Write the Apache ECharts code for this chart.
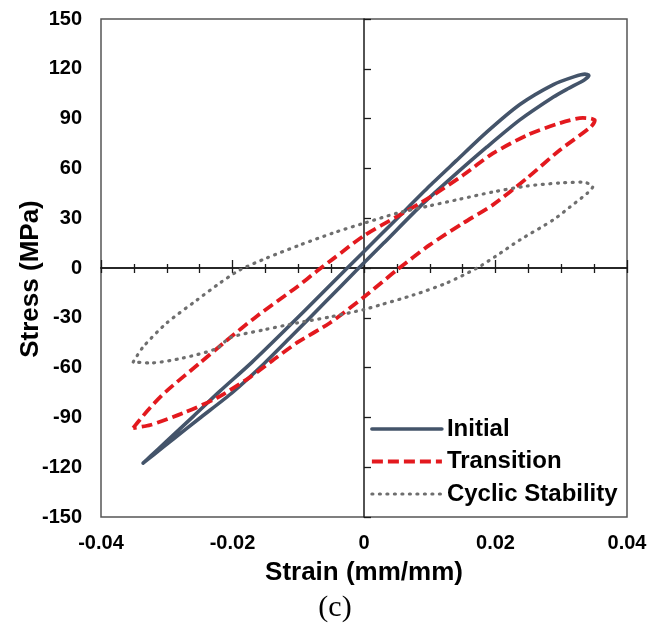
<!DOCTYPE html>
<html>
<head>
<meta charset="utf-8">
<script src="https://cdn.jsdelivr.net/npm/echarts@6/dist/echarts.min.js"></script>
<style>
html,body{margin:0;padding:0;background:#fff;}
#chart{width:653px;height:635px;}
</style>
</head>
<body>
<div id="chart"></div>
<script>
// ---- Data ----
const seriesNames = ['Initial', 'Transition', 'Cyclic Stability'];

const initialStrain = [-0.0336,-0.0325,-0.0300,-0.0260,-0.0220,-0.0171,-0.0120,-0.0060,0.0000,0.0050,0.0100,0.0140,0.0187,0.0237,0.0288,0.0320,0.0336,0.0342,
  0.0335,0.0310,0.0288,0.0237,0.0187,0.0135,0.0085,0.0030,-0.0011,-0.0060,-0.0110,-0.0153,-0.0200,-0.0250,-0.0290,-0.0320,-0.0336];
const initialStress = [-117.5,-113.5,-104.3,-89.5,-74.5,-57,-37.4,-13.7,10,29.7,49.5,64.5,82,98.5,110.5,115.3,116.8,116.0,
  113.3,108,103,89.2,72.9,55,37,15,-1.2,-21,-41,-58,-75,-90.5,-103,-112.5,-117.5];

const transitionStrain = [-0.0351,-0.0345,-0.0325,-0.0300,-0.0249,-0.0210,-0.0163,-0.0102,-0.0072,-0.0047,0.0000,0.0050,0.0100,0.0151,0.0196,0.0248,0.0298,0.0333,0.0345,0.0351,
  0.0345,0.0298,0.0248,0.0196,0.0151,0.0100,0.0050,0.0000,-0.0052,-0.0100,-0.0132,-0.0173,-0.0224,-0.0275,-0.0325,-0.0351];
const transitionStress = [-96.4,-93.4,-84,-74,-57,-44,-29,-11.4,-2,5.5,19.5,31,42.5,56,69,80,87.3,90.4,90,89,
  85,71.1,54.2,38,27.1,13.9,-1.2,-17.5,-33.1,-44.5,-53.6,-65.7,-78.3,-87.4,-94.6,-96.4];

const cyclicStrain = [-0.0351,-0.0336,-0.0300,-0.0254,-0.0219,-0.0189,-0.0148,-0.0097,-0.0047,0.0000,0.0050,0.0100,0.0146,0.0196,0.0248,0.0298,0.0333,0.0348,
  0.0340,0.0313,0.0288,0.0237,0.0200,0.0172,0.0126,0.0075,0.0024,0.0000,-0.0052,-0.0102,-0.0153,-0.0204,-0.0224,-0.0275,-0.0325,-0.0351];
const cyclicStress = [-56.6,-47.6,-33.1,-19.3,-9.0,-1.2,6.0,13.9,21.1,27,33,37.5,41.5,45.8,49.4,51.2,51.8,49,
  45.2,36.7,29,16.9,7,0,-9.0,-16.3,-22.3,-25,-29.5,-33.1,-37.3,-42,-48.5,-54.2,-57.2,-56.6];

const xTickValues = [-0.04, -0.02, 0, 0.02, 0.04];
const xTickLabels = ['-0.04', '-0.02', '0', '0.02', '0.04'];
const yTickValues = [-150, -120, -90, -60, -30, 0, 30, 60, 90, 120, 150];
const yTickLabels = ['-150', '-120', '-90', '-60', '-30', '0', '30', '60', '90', '120', '150'];

// ---- Build ----
function zip(a, b) { return a.map((v, i) => [v, b[i]]); }
function labelFor(values, labels, v) {
  for (let i = 0; i < values.length; i++) if (Math.abs(values[i] - v) < 1e-9) return labels[i];
  return '';
}

const chart = echarts.init(document.getElementById('chart'), null, {renderer: 'canvas'});
const FONT = '"Liberation Sans", Arial, sans-serif';
const axisColor = '#1a1a1a';

const option = {
  animation: false,
  backgroundColor: '#ffffff',
  grid: {left: 101, right: 26, top: 19, bottom: 118, containLabel: false, outerBoundsMode: 'none',
    show: true, borderColor: '#555', borderWidth: 1.5, backgroundColor: 'transparent'},
  legend: {
    orient: 'vertical', left: 365, top: 411,
    itemWidth: 70, itemHeight: 14, itemGap: 6.5,
    itemStyle: {opacity: 0},
    lineStyle: {width: 'inherit'},
    textStyle: {fontFamily: FONT, fontWeight: 'bold', fontSize: 24, color: '#000', lineHeight: 26},
    data: seriesNames
  },
  xAxis: [
    {
      type: 'value', min: -0.04, max: 0.04, interval: 0.02, position: 'bottom',
      axisLine: {show: false, onZero: false}, axisTick: {show: false}, splitLine: {show: false},
      axisLabel: {fontFamily: FONT, fontWeight: 'bold', fontSize: 20, color: '#000', margin: 16,
        formatter: v => labelFor(xTickValues, xTickLabels, v)},
      name: 'Strain (mm/mm)', nameLocation: 'middle', nameGap: 43,
      nameTextStyle: {fontFamily: FONT, fontWeight: 'bold', fontSize: 26, color: '#000'}
    },
    {
      type: 'value', min: -0.04, max: 0.04, interval: 0.005, position: 'bottom',
      axisLine: {show: true, onZero: true, onZeroAxisIndex: 0, lineStyle: {color: axisColor, width: 1.5}},
      axisTick: {show: true, inside: false, length: 5, lineStyle: {color: axisColor, width: 1.3}},
      axisLabel: {show: false}, splitLine: {show: false}
    },
    {
      type: 'value', min: -0.04, max: 0.04, interval: 0.02, position: 'bottom',
      axisLine: {show: true, onZero: true, onZeroAxisIndex: 0, lineStyle: {color: axisColor, width: 1.5}},
      axisTick: {show: true, inside: true, length: 8, lineStyle: {color: axisColor, width: 1.3}},
      minorTick: {show: true, splitNumber: 4, length: 4, lineStyle: {color: axisColor, width: 1.3}},
      axisLabel: {show: false}, splitLine: {show: false}
    }
  ],
  yAxis: [
    {
      type: 'value', min: -150, max: 150, interval: 30, position: 'left',
      axisLine: {show: false, onZero: false}, axisTick: {show: false}, splitLine: {show: false},
      axisLabel: {fontFamily: FONT, fontWeight: 'bold', fontSize: 20, color: '#000', margin: 19,
        formatter: v => labelFor(yTickValues, yTickLabels, v)},
      name: 'Stress (MPa)', nameLocation: 'middle', nameGap: 57, nameMoveOverlap: false,
      nameTextStyle: {fontFamily: FONT, fontWeight: 'bold', fontSize: 26, color: '#000', padding: [0, 22, 0, 0]}
    },
    {
      type: 'value', min: -150, max: 150, interval: 30, position: 'left',
      axisLine: {show: true, onZero: true, onZeroAxisIndex: 0, lineStyle: {color: axisColor, width: 1.5}},
      axisTick: {show: true, inside: true, length: 7, lineStyle: {color: axisColor, width: 1.3}},
      axisLabel: {show: false}, splitLine: {show: false}
    }
  ],
  series: [
    {
      name: seriesNames[0], type: 'line', xAxisIndex: 0, yAxisIndex: 0,
      data: zip(initialStrain, initialStress), symbol: 'none', smooth: 0.25,
      lineStyle: {color: '#44546a', width: 3.6, cap: 'round', join: 'round'},
      itemStyle: {color: '#44546a'}
    },
    {
      name: seriesNames[1], type: 'line', xAxisIndex: 0, yAxisIndex: 0,
      data: zip(transitionStrain, transitionStress), symbol: 'none', smooth: 0.25,
      lineStyle: {color: '#e3191e', width: 3.8, type: [11, 5], join: 'round'},
      itemStyle: {color: '#e3191e'}
    },
    {
      name: seriesNames[2], type: 'line', xAxisIndex: 0, yAxisIndex: 0,
      data: zip(cyclicStrain, cyclicStress), symbol: 'none', smooth: 0.25,
      lineStyle: {color: '#6e6e6e', width: 3.2, type: [1, 6.5], cap: 'round', join: 'round'},
      itemStyle: {color: '#6e6e6e'}
    }
  ],
  graphic: [
    {type: 'text', x: 335, y: 608, style: {text: '(c)', font: '30px "Liberation Serif", "Times New Roman", serif', fill: '#000', align: 'center', verticalAlign: 'middle'}}
  ]
};
chart.setOption(option);
</script>
</body>
</html>
